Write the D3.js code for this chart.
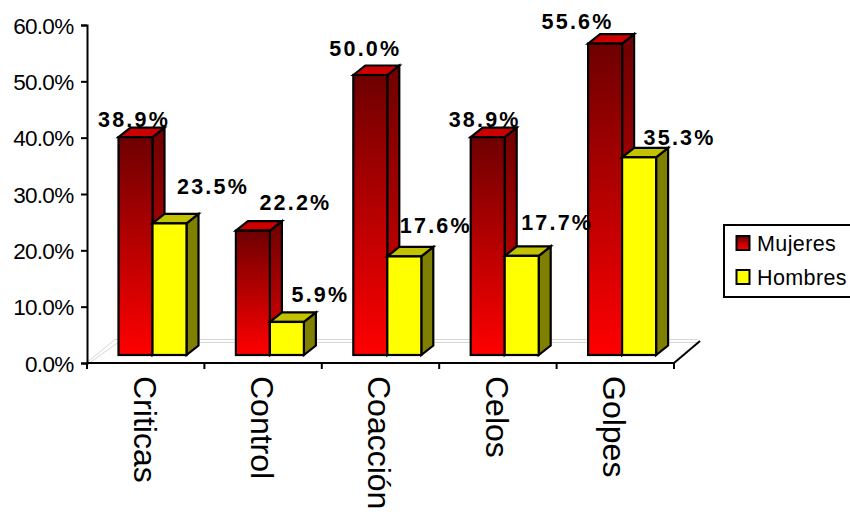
<!DOCTYPE html>
<html>
<head>
<meta charset="utf-8">
<style>
html,body{margin:0;padding:0;background:#fff;overflow:hidden}
svg{display:block}
text{font-family:"Liberation Sans",Arial,sans-serif;fill:#000}
</style>
<script src="https://cdn.jsdelivr.net/npm/d3@7/dist/d3.min.js"></script>
</head>
<body>
<script>
const categories = ["Criticas", "Control", "Coacción", "Celos", "Golpes"];
const mujeres = [38.9, 22.2, 50.0, 38.9, 55.6];
const hombres = [23.5, 5.9, 17.6, 17.7, 35.3];
const seriesNames = ["Mujeres", "Hombres"];
const yTicks = [0, 10, 20, 30, 40, 50, 60];

const W = 850, H = 512;
const axisLeft = 87, axisRight = 674, axisBase = 363, axisTop = 25;
const floorBase = 355, barTop = 19; // bars stand slightly behind the axis plane
const depthX = 12, depthY = -9.5;   // extrusion of each bar
const wallX = 28, wallY = -22;      // extrusion of the chart floor
const barWidth = 34;

const svg = d3.select("body").append("svg").attr("width", W).attr("height", H);

const defs = svg.append("defs");
const grad = defs.append("linearGradient").attr("id", "redFade")
  .attr("x1", 0).attr("y1", 0).attr("x2", 0).attr("y2", 1);
grad.append("stop").attr("offset", 0).attr("stop-color", "#6e0000");
grad.append("stop").attr("offset", 1).attr("stop-color", "#ff0000");
const gradSide = defs.append("linearGradient").attr("id", "redSide")
  .attr("x1", 0).attr("y1", 0).attr("x2", 0).attr("y2", 1);
gradSide.append("stop").attr("offset", 0).attr("stop-color", "#6e0000");
gradSide.append("stop").attr("offset", 1).attr("stop-color", "#e00000");

const x = d3.scaleBand().domain(categories).range([axisLeft, axisRight]);
const y = d3.scaleLinear().domain([0, 60]).range([axisBase, axisTop]);
const yBar = d3.scaleLinear().domain([0, 60]).range([floorBase, barTop]);

// Floor of the chart: thin grey double outline at the back and left
const floor = svg.append("g").attr("fill", "none");
[0, 3].forEach(o => {
  floor.append("path")
    .attr("d", d3.line()([
      [axisLeft + o, axisBase - 0.5],
      [axisLeft + wallX + o, axisBase + wallY + o - 1.5],
      [axisRight + wallX - 4, axisBase + wallY + o - 1.5]
    ]))
    .attr("stroke", "#c4c4c4").attr("stroke-width", 0.7);
});
floor.append("line")
  .attr("x1", axisRight).attr("y1", axisBase)
  .attr("x2", axisRight + wallX - 2).attr("y2", axisBase + wallY)
  .attr("stroke", "#000").attr("stroke-width", 2);

// Extruded bars: front, top and side faces
function drawBar(g, left, value, colors) {
  const top = yBar(value);
  const w = barWidth;
  const faces = g.append("g").attr("stroke", "#000").attr("stroke-width", 2.2).attr("stroke-linejoin", "miter");
  faces.append("path")
    .attr("d", d3.line()([[left + w, top], [left + w + depthX, top + depthY], [left + w + depthX, floorBase + depthY], [left + w, floorBase]]) + "Z")
    .attr("fill", colors.side);
  faces.append("path")
    .attr("d", d3.line()([[left, top], [left + depthX, top + depthY], [left + w + depthX, top + depthY], [left + w, top]]) + "Z")
    .attr("fill", colors.top);
  faces.append("rect")
    .attr("x", left).attr("y", top).attr("width", w).attr("height", floorBase - top)
    .attr("fill", colors.front);
}

const redFaces = { front: "url(#redFade)", side: "url(#redSide)", top: "#cc0000" };
const yellowFaces = { front: "#ffff00", side: "#808000", top: "#c2c200" };

const bars = svg.append("g");
categories.forEach((c, i) => {
  const g = bars.append("g");
  const left = x(c) + 31.5;
  drawBar(g, left, mujeres[i], redFaces);
  drawBar(g, left + barWidth, hombres[i], yellowFaces);
});

// Value axis
const yAxis = svg.append("g").attr("transform", `translate(${axisLeft},0)`)
  .call(d3.axisLeft(y).tickValues(yTicks).tickSize(6).tickFormat(d => d.toFixed(1) + "%"));
yAxis.select(".domain").attr("stroke-width", 2).attr("stroke", "#000");
yAxis.selectAll(".tick line").attr("stroke-width", 2).attr("stroke", "#000");
yAxis.selectAll(".tick text")
  .attr("x", -13.5).attr("dy", "0.36em")
  .style("font-size", "22.5px").style("letter-spacing", "-0.7px")
  .style("font-family", '"Liberation Sans",Arial,sans-serif').attr("fill", "#000");

// Category axis with rotated labels
const xAxis = svg.append("g").attr("transform", `translate(0,${axisBase})`);
xAxis.append("line").attr("x1", axisLeft).attr("x2", axisRight)
  .attr("stroke", "#000").attr("stroke-width", 2);
xAxis.selectAll("line.tick").data(d3.range(categories.length + 1)).join("line")
  .attr("class", "tick")
  .attr("x1", i => axisLeft + i * x.bandwidth()).attr("x2", i => axisLeft + i * x.bandwidth())
  .attr("y1", 0).attr("y2", 6)
  .attr("stroke", "#000").attr("stroke-width", 2);
xAxis.selectAll("text").data(categories).join("text")
  .attr("transform", d => `translate(${x(d) + x.bandwidth() / 2 - 0.5},13) rotate(90)`)
  .attr("dy", "0.36em")
  .style("font-size", "32px")
  .text(d => d);

// Value labels, nudged by hand so they clear the neighbouring bars
const nudgeMujeres = [[-1, -10.5], [43, -20.7], [-4.5, -19.5], [-2.5, -10.5], [-27, -14.3]];
const nudgeHombres = [[44, -29], [34, -19.5], [32, -23.4], [36, -26], [41, -12.3]];
const valueLabels = svg.append("g");
function drawLabels(values, offset, nudges) {
  values.forEach((v, i) => {
    valueLabels.append("text")
      .attr("x", x(categories[i]) + 31 + offset + barWidth / 2 + nudges[i][0])
      .attr("y", yBar(v) + nudges[i][1])
      .attr("text-anchor", "middle")
      .style("font-size", "21.5px").style("font-weight", "bold").style("letter-spacing", "2.2px")
      .text(v.toFixed(1) + "%");
  });
}
drawLabels(mujeres, 0, nudgeMujeres);
drawLabels(hombres, barWidth, nudgeHombres);

// Legend
const legend = svg.append("g");
legend.append("rect").attr("x", 724).attr("y", 225).attr("width", 140).attr("height", 72)
  .attr("fill", "#fff").attr("stroke", "#000").attr("stroke-width", 2);
const swatches = ["url(#redFade)", "#ffff00"];
seriesNames.forEach((name, i) => {
  const yPos = 243 + i * 34;
  legend.append("rect").attr("x", 736.5).attr("y", yPos - 7).attr("width", 13).attr("height", 14)
    .attr("fill", swatches[i]).attr("stroke", "#000").attr("stroke-width", 2);
  legend.append("text").attr("x", 757).attr("y", yPos).attr("dy", "0.36em")
    .style("font-size", "21.5px").style("letter-spacing", "0.4px").text(name);
});
</script>
</body>
</html>
